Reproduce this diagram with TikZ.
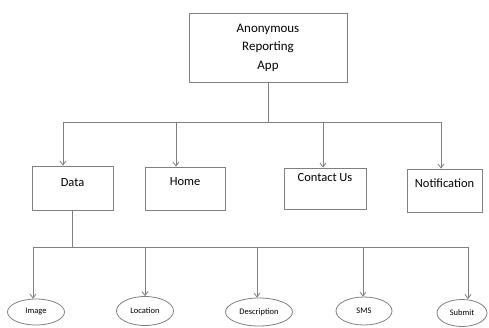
\documentclass[tikz,border=0pt]{standalone}
\usepackage{fontspec}
\setmainfont{Carlito}
\usetikzlibrary{arrows.meta,shapes.geometric}

\begin{document}
\begin{tikzpicture}[x=1bp,y=-1bp,
    line/.style={draw=black!50,line width=0.8bp},
    arr/.style={line,-{Straight Barb[length=4bp,width=6bp]}},
    menubox/.style={line,rectangle,inner xsep=0pt,inner ysep=0pt,text=black,font=\fontsize{12.5}{14}\selectfont},
    leaf/.style={line,ellipse,inner sep=0pt,text=black,font=\fontsize{8.5}{10}\selectfont}]
    \useasboundingbox (0,0) rectangle (489,327);

    \node[line,rectangle,minimum width=158bp,minimum height=69bp,align=center,text=black,
          font=\fontsize{13}{18.5}\selectfont] (app) at (268,47.5) {Anonymous\\Reporting\\App}; %app

    \node[menubox,minimum width=81bp,text height=20bp,text depth=24bp] (data) at (72.5,188) {Data}; %data
    \node[menubox,minimum width=80bp,text height=18bp,text depth=25bp] (home) at (185,188.5) {Home}; %home
    \node[menubox,minimum width=82bp,text height=13bp,text depth=28bp] (contact) at (325,188.5) {Contact Us}; %contact
    \node[menubox,minimum width=75bp,text height=18bp,text depth=25bp] (notif) at (444.5,190.5) {Notification}; %notification

    \node[leaf,minimum width=57bp,minimum height=26bp] (image) at (36,312) {Image}; %image
    \node[leaf,minimum width=57bp,minimum height=29bp] (location) at (145,311) {Location}; %location
    \node[leaf,minimum width=67bp,minimum height=28bp] (descr) at (259,312) {Description}; %description
    \node[leaf,minimum width=56bp,minimum height=28bp] (sms) at (364,311) {SMS}; %sms
    \node[leaf,minimum width=50bp,minimum height=27bp] (submit) at (462,313) {Submit}; %submit

    % first level
    \coordinate (b1) at (63,122);
    \coordinate (b2) at (176,122);
    \coordinate (b3) at (323,122);
    \coordinate (b4) at (441,122);
    \draw[line] (app.south) -- (app.south |- b1);
    \draw[line] (b1) -- (b4);
    \draw[arr] (b1) -- (b1 |- data.north);
    \draw[arr] (b2) -- (b2 |- home.north);
    \draw[arr] (b3) -- (b3 |- contact.north);
    \draw[arr] (b4) -- (b4 |- notif.north);

    % second level
    \coordinate (c1) at (33,247);
    \coordinate (c2) at (145,247);
    \coordinate (c3) at (257,247);
    \coordinate (c4) at (363,247);
    \coordinate (c5) at (468,247);
    \draw[line] (data.south) -- (data.south |- c1);
    \draw[line] (c1) -- (c5);
    \draw[arr] (c1) -- (c1 |- image.north);
    \draw[arr] (c2) -- (c2 |- location.north);
    \draw[arr] (c3) -- (c3 |- descr.north);
    \draw[arr] (c4) -- (c4 |- sms.north);
    \draw[arr] (c5) -- (c5 |- submit.north);
\end{tikzpicture}
\end{document}
